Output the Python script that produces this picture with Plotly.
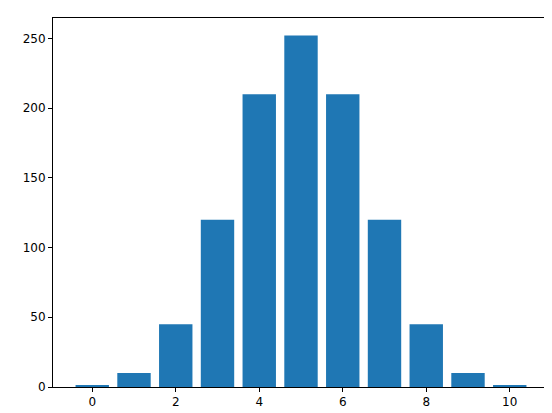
import plotly.graph_objects as go

k = list(range(11))
counts = [1, 10, 45, 120, 210, 252, 210, 120, 45, 10, 1]

fig = go.Figure(go.Bar(x=k, y=counts, width=0.8, marker=dict(color="#1f77b4", line=dict(width=0))))
axis_common = dict(showgrid=False, zeroline=False, showline=True, linecolor="black", linewidth=1,
                   mirror=True, ticks="outside", ticklen=4, tickcolor="black", automargin=False,
                   tickfont=dict(family="DejaVu Sans", size=12, color="black"))
fig.update_xaxes(range=[-0.94, 10.94], tickvals=[0, 2, 4, 6, 8, 10], **axis_common)
fig.update_yaxes(range=[0, 264.6], tickvals=[0, 50, 100, 150, 200, 250], **axis_common)
fig.update_layout(width=552, height=413, autosize=False, margin=dict(l=45, r=11, t=10, b=34, pad=0),
                  plot_bgcolor="white", paper_bgcolor="white", showlegend=False)
fig.write_html("out.html", config={"responsive": False})
